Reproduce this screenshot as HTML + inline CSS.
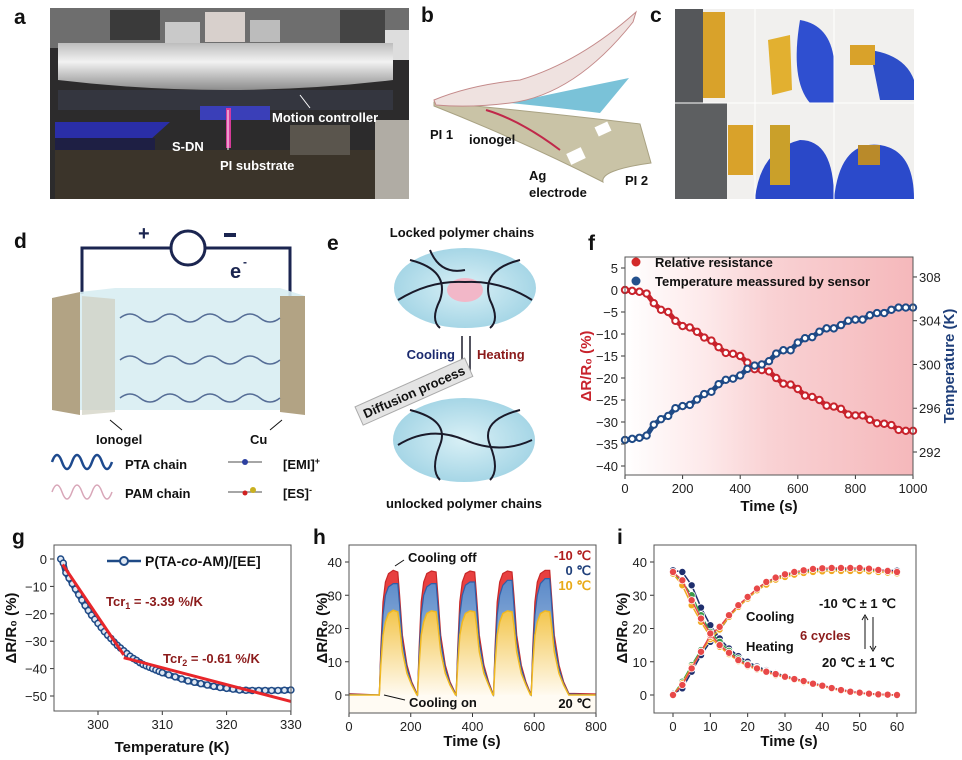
<!DOCTYPE html>
<html><head><meta charset="utf-8">
<style>
html,body{margin:0;padding:0;background:#fff;}
svg{display:block;font-family:"Liberation Sans",Arial,sans-serif;}
.b{font-weight:bold}
</style></head>
<body>
<svg id="fig" width="962" height="760" viewBox="0 0 962 760" xmlns="http://www.w3.org/2000/svg">
<defs>
<linearGradient id="cyl" x1="0" y1="0" x2="0" y2="1"><stop offset="0" stop-color="#bdbdbd"/><stop offset="0.4" stop-color="#f2f2f2"/><stop offset="1" stop-color="#8d8d8d"/></linearGradient>
<linearGradient id="fbg" x1="0" y1="0" x2="1" y2="0"><stop offset="0" stop-color="#fff"/><stop offset="0.28" stop-color="#fde9ea"/><stop offset="0.5" stop-color="#f9d2d4"/><stop offset="1" stop-color="#f5b8bb"/></linearGradient>
<linearGradient id="yel" x1="0" y1="0" x2="0" y2="1"><stop offset="0" stop-color="#f3c54b"/><stop offset="1" stop-color="#fffaf0"/></linearGradient>
<linearGradient id="blu" x1="0" y1="0" x2="0" y2="1"><stop offset="0" stop-color="#5b8ac9"/><stop offset="1" stop-color="#b9cde6"/></linearGradient>
<radialGradient id="ell" cx="0.5" cy="0.5" r="0.5"><stop offset="0" stop-color="#d9f0f6"/><stop offset="1" stop-color="#a6d6e6"/></radialGradient>
</defs>

<!-- panel letters -->
<g class="b" font-size="21" fill="#111">
<text x="14" y="24">a</text>
<text x="421" y="22">b</text>
<text x="650" y="22">c</text>
<text x="14" y="248">d</text>
<text x="327" y="250">e</text>
<text x="588" y="250">f</text>
<text x="12" y="544">g</text>
<text x="313" y="544">h</text>
<text x="617" y="544">i</text>
</g>

<!-- panel a photo -->
<g>
<rect x="50" y="8" width="359" height="191" fill="#2c2b2c"/>
<rect x="50" y="8" width="359" height="40" fill="#6e6e6e"/>
<rect x="110" y="10" width="50" height="30" fill="#3a3a3a"/>
<rect x="165" y="22" width="35" height="22" fill="#c9c9c9"/>
<rect x="205" y="12" width="40" height="30" fill="#d8d0cc"/>
<rect x="250" y="20" width="30" height="22" fill="#bcbcbc"/>
<rect x="340" y="10" width="45" height="35" fill="#444"/>
<rect x="385" y="30" width="24" height="30" fill="#ddd"/>
<path d="M58,43 H393 V80 Q226,100 58,80 Z" fill="url(#cyl)"/>
<rect x="58" y="90" width="335" height="20" fill="#34363f"/>
<rect x="200" y="106" width="70" height="14" fill="#3a3fb8"/>
<path d="M55,122 H170 L150,140 H55 Z" fill="#2a2ea8"/>
<rect x="55" y="138" width="100" height="12" fill="#1e1f44"/>
<rect x="55" y="150" width="354" height="49" fill="#3b342a"/>
<rect x="290" y="125" width="60" height="30" fill="#5a554d"/>
<rect x="375" y="120" width="34" height="79" fill="#b0aca4"/>
<rect x="226" y="108" width="5" height="40" fill="#d63a9a"/>
<line x1="228" y1="110" x2="228" y2="150" stroke="#fff" stroke-width="1"/>
<line x1="300" y1="95" x2="310" y2="108" stroke="#fff" stroke-width="1"/>
<g class="b" font-size="13" fill="#fff">
<text x="272" y="122">Motion controller</text>
<text x="172" y="151">S-DN</text>
<text x="220" y="170">PI substrate</text>
</g>
</g>

<!-- panel b -->
<g>
<path d="M434,102 Q540,112 640,124 L651,163 Q600,170 603,182 Q520,140 434,106 Z" fill="#c9c3a6" stroke="#a9a283"/>
<path d="M510,103 Q560,92 629,78 L600,113 Q560,108 510,103 Z" fill="#6bbbd4" opacity="0.9"/>
<path d="M434,100 Q470,85 520,80 Q580,62 636,12 L633,22 Q575,95 510,103 Q470,108 436,105 Z" fill="#efe2e0" stroke="#c48a8a"/>
<path d="M486,110 Q520,120 560,150" stroke="#c0284a" stroke-width="2" fill="none"/>
<rect x="596" y="124" width="14" height="10" fill="#fff" transform="rotate(-25 603 129)"/>
<rect x="568" y="150" width="16" height="12" fill="#fff" transform="rotate(-25 576 156)"/>
<g class="b" font-size="13" fill="#111">
<text x="430" y="139">PI 1</text>
<text x="469" y="144">ionogel</text>
<text x="529" y="180">Ag</text>
<text x="529" y="197">electrode</text>
<text x="625" y="185">PI 2</text>
</g>
</g>

<!-- panel c photos -->
<g>
<rect x="675" y="9" width="239" height="190" fill="#f1f0ee"/>
<rect x="675" y="9" width="28" height="94" fill="#55575a"/>
<rect x="703" y="12" width="22" height="86" fill="#d9a22a"/>
<rect x="675" y="103" width="52" height="96" fill="#5d5f61"/>
<rect x="728" y="125" width="25" height="50" fill="#d9a22a"/>
<path d="M800,20 Q830,25 834,60 V103 H810 Q790,80 800,20Z" fill="#2f4fd0"/>
<path d="M768,40 L790,35 L792,90 L772,95 Z" fill="#e2b030"/>
<path d="M870,50 Q905,55 914,80 V100 H880 Z" fill="#2d4ec8"/>
<rect x="850" y="45" width="25" height="20" fill="#d9a22a"/>
<path d="M755,199 Q760,150 800,140 Q834,140 834,199 Z" fill="#2a48c8"/>
<rect x="770" y="125" width="20" height="60" fill="#caa02a"/>
<path d="M834,199 Q840,140 880,145 Q914,150 914,199 Z" fill="#2b4acb"/>
<rect x="858" y="145" width="22" height="20" fill="#b98a2a"/>
<line x1="675" y1="103" x2="914" y2="103" stroke="#fff"/>
<line x1="755" y1="9" x2="755" y2="199" stroke="#fff"/>
<line x1="834" y1="9" x2="834" y2="199" stroke="#fff"/>
</g>

<!-- panel d -->
<g>
<path d="M82,294 V248 H170 M206,248 H290 V296" stroke="#1b2550" stroke-width="3" fill="none"/>
<circle cx="188" cy="248" r="17" fill="none" stroke="#1b2550" stroke-width="3"/>
<text x="138" y="240" class="b" font-size="20" fill="#1b2550">+</text>
<rect x="224" y="233" width="12" height="4" fill="#1b2550"/>
<text x="230" y="278" class="b" font-size="20" fill="#1b2550">e</text><text x="243" y="266" class="b" font-size="12" fill="#1b2550">-</text>
<path d="M80,292 L115,288 H280 L305,296 V410 H80 Z" fill="#d8edf2" opacity="0.9"/>
<path d="M52,298 L80,292 V415 L52,410 Z" fill="#b2a384"/>
<path d="M280,296 L305,296 V415 L280,412 Z" fill="#b2a384"/>
<path d="M82,296 L115,299 V412 L82,415 Z" fill="#cfcfbf" opacity="0.7"/>
<path d="M120,318 q10,-8 20,0 t20,0 t20,0 t20,0 t20,0 t20,0 t20,0 t20,0" stroke="#556d96" stroke-width="1.5" fill="none"/>
<path d="M120,360 q10,-8 20,0 t20,0 t20,0 t20,0 t20,0 t20,0 t20,0 t20,0" stroke="#556d96" stroke-width="1.5" fill="none"/>
<path d="M120,398 q10,-8 20,0 t20,0 t20,0 t20,0 t20,0 t20,0 t20,0 t20,0" stroke="#556d96" stroke-width="1.5" fill="none"/>
<line x1="110" y1="420" x2="122" y2="430" stroke="#111"/>
<line x1="282" y1="420" x2="270" y2="430" stroke="#111"/>
<g class="b" font-size="13" fill="#111">
<text x="96" y="444">Ionogel</text>
<text x="250" y="444">Cu</text>
<text x="125" y="469">PTA chain</text>
<text x="125" y="498">PAM chain</text>
<text x="283" y="469">[EMI]<tspan font-size="9" dy="-5">+</tspan></text>
<text x="283" y="498">[ES]<tspan font-size="9" dy="-5">-</tspan></text>
</g>
<path d="M52,462 q5,-14 10,0 t10,0 t10,0 t10,0 t10,0 t10,0" stroke="#1e4a8e" stroke-width="2.5" fill="none"/>
<path d="M52,492 q5,-14 10,0 t10,0 t10,0 t10,0 t10,0 t10,0" stroke="#d8a6b8" stroke-width="1.5" fill="none"/>
<g stroke="#888" stroke-width="1.5"><line x1="228" y1="462" x2="262" y2="462"/><line x1="228" y1="492" x2="262" y2="492"/></g>
<circle cx="245" cy="462" r="3" fill="#2c3fa0"/><circle cx="253" cy="490" r="3" fill="#c9b020"/><circle cx="245" cy="493" r="2.5" fill="#d02020"/>
</g>

<!-- panel e -->
<g>
<text x="462" y="237" text-anchor="middle" class="b" font-size="13" fill="#111">Locked polymer chains</text>
<ellipse cx="465" cy="288" rx="71" ry="40" fill="url(#ell)"/>
<ellipse cx="465" cy="290" rx="18" ry="12" fill="#f2b7c8"/>
<g stroke="#1a1a2a" stroke-width="2" fill="none">
<path d="M410,260 Q450,270 440,300 Q430,320 440,328"/><path d="M520,260 Q480,270 490,300 Q500,320 490,328"/>
<path d="M398,300 Q430,280 465,282 Q500,280 532,300"/><path d="M430,250 Q440,275 465,270"/>
</g>
<g stroke="#1a1a2a" stroke-width="1.5">
<line x1="462" y1="336" x2="462" y2="376"/><line x1="470" y1="336" x2="470" y2="376"/>
</g>
<text x="455" y="359" text-anchor="end" class="b" font-size="13" fill="#1b2a6e">Cooling</text>
<text x="477" y="359" class="b" font-size="13" fill="#8b1a1a">Heating</text>
<ellipse cx="464" cy="440" rx="71" ry="42" fill="url(#ell)"/>
<g stroke="#1a1a2a" stroke-width="2" fill="none">
<path d="M410,410 Q450,420 440,445 Q430,470 440,480"/><path d="M520,410 Q480,420 490,445 Q500,470 490,480"/>
<path d="M398,445 Q430,425 465,440 Q500,455 532,440"/>
</g>
<g transform="rotate(-24 413 392)"><rect x="354" y="382" width="120" height="20" fill="#e4e4e4" stroke="#aaa"/>
<text x="414" y="397" text-anchor="middle" class="b" font-size="13" fill="#111">Diffusion process</text></g>
<text x="464" y="508" text-anchor="middle" class="b" font-size="13" fill="#111">unlocked polymer chains</text>
</g>

<g id="charts"></g>
</svg>

<script>
// ---------- data ----------
const fTime = [0,25,50,75,100,125,150,175,200,225,250,275,300,325,350,375,400,425,450,475,500,525,550,575,600,625,650,675,700,725,750,775,800,825,850,875,900,925,950,975,1000];
const fResistance = [0,-0.2,-0.4,-0.8,-3,-4.5,-5,-7,-8.2,-8.5,-9.5,-10.8,-11.5,-13,-14.3,-14.5,-15,-16.5,-18,-18.2,-18.5,-20,-21.3,-21.5,-22.5,-24,-24.3,-25,-26.3,-26.5,-27,-28.3,-28.5,-28.5,-29.5,-30.3,-30.4,-30.7,-31.8,-32,-32];
const fTemperature = [293.1,293.2,293.3,293.5,294.5,295,295.3,296,296.2,296.3,296.8,297.3,297.5,298.2,298.6,298.7,299,299.6,299.9,300,300.3,301,301.3,301.3,302,302.4,302.5,303,303.3,303.3,303.6,304,304.1,304.1,304.5,304.7,304.7,305,305.2,305.2,305.2];
const fLeftTicks = [5,0,-5,-10,-15,-20,-25,-30,-35,-40];
const fRightTicks = [292,296,300,304,308];
const fXTicks = [0,200,400,600,800,1000];

const gTemp = [294.2,294.6,295,295.5,296,296.5,297,297.5,298,298.5,299,299.5,300,300.5,301,301.5,302,302.5,303,303.5,304,304.5,305,305.5,306,306.5,307,307.5,308,308.5,309,309.5,310,311,312,313,314,315,316,317,318,319,320,321,322,323,324,325,326,327,328,329,330];
const gResist = [0,-1.5,-5,-7,-9,-11,-13,-15,-17,-18.8,-20.5,-22,-23.5,-25,-26.5,-27.8,-29,-30.3,-31.5,-32.5,-33.5,-34.5,-35.5,-36.3,-37,-37.8,-38.5,-39,-39.5,-40,-40.5,-41,-41.5,-42.3,-43,-43.8,-44.5,-45,-45.5,-46,-46.5,-46.9,-47.2,-47.5,-47.8,-47.9,-48,-48,-48,-48,-48,-47.9,-47.8];
const gFit1 = [[294.5,-2],[304,-35]];
const gFit2 = [[304,-36],[330,-52]];
const gYTicks = [0,-10,-20,-30,-40,-50];
const gXTicks = [300,310,320,330];

const hTime = [0,98,103,110,118,128,143,158,164,173,188,203,220,222,227,234,242,252,267,282,288,297,312,327,345,347,352,359,367,377,392,407,413,422,437,452,466,468,473,480,488,498,513,528,534,543,558,573,588,590,595,602,610,620,635,650,656,665,680,695,712,800];
const hRed = [0.4,0,14,28,34,36.5,37.5,37,30,18,9,4,0.5,0,14,28,34,36.5,37.3,37,30,18,9,4,0.5,0,14,28,34,36.5,37.3,37,30,18,9,4,0.5,0,14,28,34,36.5,37.3,37,30,18,9,4,0.5,0,14,28,34,36.5,37.5,37.5,30,18,9,4,0.5,0.3];
const hBlue = [0.2,0,12,24,30,32.5,33.5,33.5,27,16,8,3.5,0.3,0,12,24,30,32.5,33.5,33.5,27,16,8,3.5,0.3,0,12,24,30,33,34,34,27,16,8,3.5,0.3,0,12,24,30,33,34.5,34.5,27,16,8,3.5,0.3,0,12,24,30,33.5,35,35,28,16,8,3.5,0.3,0];
const hYellow = [0,0,9,18,22,24.5,25.5,25,21,13,6.5,3,0,0,9,18,22,24.5,25.3,25,21,13,6.5,3,0,0,9,18,22,24.5,25.3,25,21,13,6.5,3,0,0,9,18,22,24.5,25.3,25,21,13,6.5,3,0,0,9,18,22,24.5,25.3,25,21,13,6.5,3,0,0];
const hYTicks = [0,10,20,30,40];
const hXTicks = [0,200,400,600,800];

const iTime = [0,2.5,5,7.5,10,12.5,15,17.5,20,22.5,25,27.5,30,32.5,35,37.5,40,42.5,45,47.5,50,52.5,55,57.5,60];
const iNavyCool = [0.3,2,7,12,16,19.5,23.5,26.5,29,31.5,33.5,35,36,36.8,37.3,37.6,37.8,37.8,37.9,37.9,37.9,37.8,37.6,37.5,37.4];
const iNavyHeat = [37.5,37,33,26.3,21,17,14,11.7,10,8.6,7.5,6.6,5.7,5,4.2,3.5,2.9,2.2,1.6,1.1,0.7,0.4,0.2,0.1,0];
const iGreenCool = [0,4,9,13.5,17,20,23.8,26.8,29.3,31.8,33.5,35,35.8,36.5,37,37.3,37.5,37.6,37.6,37.6,37.6,37.5,37.3,37.1,36.9];
const iGreenHeat = [36.8,34,30,24,19,16,13.3,11,9.3,8.2,7.2,6.4,5.6,4.9,4.1,3.4,2.8,2.1,1.5,1,0.6,0.4,0.2,0.1,0];
const iOrangeCool = [0,3.5,8.5,13,16.8,19.7,23.5,26.5,29,31.5,33.2,34.7,35.5,36.2,36.7,37,37.2,37.3,37.3,37.3,37.3,37.2,37,36.8,36.6];
const iOrangeHeat = [36.5,33,27,22,17.5,14.5,12.3,10.2,8.7,7.7,6.8,6,5.3,4.6,3.9,3.2,2.6,1.9,1.3,0.8,0.5,0.3,0.1,0,0];
const iRedCool = [0,3,8,13,18,20.5,24,27,29.5,32,34,35.3,36.3,37,37.5,37.9,38.1,38.2,38.2,38.2,38.2,38,37.6,37.3,37];
const iRedHeat = [37,34.5,28.5,23,18.5,15,12.7,10.5,9,8,7,6.3,5.5,4.8,4.2,3.4,2.8,2.1,1.5,1,0.7,0.4,0.2,0.1,0];
const iYTicks = [0,10,20,30,40];
const iXTicks = [0,10,20,30,40,50,60];

// ---------- helpers ----------
const NS = "http://www.w3.org/2000/svg";
const root = document.getElementById("charts");
function mk(tag, attrs, parent) {
  const e = document.createElementNS(NS, tag);
  for (const k in attrs) e.setAttribute(k, attrs[k]);
  (parent || root).appendChild(e);
  return e;
}
function txt(x, y, s, attrs, parent) {
  const t = mk("text", Object.assign({x: x, y: y}, attrs || {}), parent);
  t.textContent = s;
  return t;
}
function poly(xs, ys, fx, fy) { return xs.map((v, i) => fx(v).toFixed(1) + "," + fy(ys[i]).toFixed(1)).join(" "); }

// ---------- panel f ----------
const fx = t => 625 + t * 0.288;
const fyL = v => 290 - v * 4.4;
const fyR = k => 452 - (k - 292) * 10.94;
{
  const bg = mk("rect", {x: 625, y: 257, width: 288, height: 218, fill: "url(#fbg)"});
  
  
  fLeftTicks.forEach(v => {
    mk("line", {x1: 621, x2: 625, y1: fyL(v), y2: fyL(v), stroke: "#333"});
    const t = txt(618, fyL(v) + 5, (v < 0 ? "\u2212" + (-v) : v), {"text-anchor": "end", "font-size": 13, fill: "#222"});
    
    
  });
  fRightTicks.forEach(v => {
    mk("line", {x1: 913, x2: 917, y1: fyR(v), y2: fyR(v), stroke: "#333"});
    const t = txt(919, fyR(v) + 5, v, {"font-size": 13, fill: "#222"});
    
    
  });
  fXTicks.forEach(v => {
    mk("line", {x1: fx(v), x2: fx(v), y1: 475, y2: 479, stroke: "#333"});
    const t = txt(fx(v), 493, v, {"text-anchor": "middle", "font-size": 13, fill: "#222"});
    
    
  });
  mk("polyline", {points: poly(fTime, fResistance, fx, fyL), fill: "none", stroke: "#c8232c", "stroke-width": 5});
  mk("polyline", {points: poly(fTime, fTemperature, fx, fyR), fill: "none", stroke: "#1f4a86", "stroke-width": 5});
  fTime.forEach((t, i) => {
    const c = mk("circle", {cx: fx(t), cy: fyL(fResistance[i]), r: 3.2, fill: "#fff", stroke: "#c8232c", "stroke-width": 2});
    
    
    const d = mk("circle", {cx: fx(t), cy: fyR(fTemperature[i]), r: 3.2, fill: "#fff", stroke: "#1f4a86", "stroke-width": 2});
    
    
  });
  mk("rect", {x: 625, y: 257, width: 288, height: 218, fill: "none", stroke: "#555"});
  mk("circle", {cx: 636, cy: 262, r: 4.5, fill: "#d32a2a"});
  mk("circle", {cx: 636, cy: 281, r: 4.5, fill: "#24508c"});
  const l1 = txt(655, 267, "Relative resistance", {"font-size": 13, "font-weight": "bold", fill: "#111"});
  
  
  const l2 = txt(655, 286, "Temperature meassured by sensor", {"font-size": 13, "font-weight": "bold", fill: "#111"});
  
  
  const xl = txt(769, 511, "Time (s)", {"text-anchor": "middle", "font-size": 15, "font-weight": "bold", fill: "#111"});
  
  
  const yl = txt(0, 0, "\u0394R/R\u2080 (%)", {"text-anchor": "middle", "font-size": 15, "font-weight": "bold", fill: "#c8232c", transform: "translate(591,366) rotate(-90)"});
  
  
  const yr = txt(0, 0, "Temperature (K)", {"text-anchor": "middle", "font-size": 15, "font-weight": "bold", fill: "#1f3f7a", transform: "translate(954,366) rotate(-90)"});
  
  
}

// ---------- panel g ----------
const gx = T => 98 + (T - 300) * 6.43;
const gy = v => 559 - v * 2.74;
{
  gYTicks.forEach(v => {
    mk("line", {x1: 50, x2: 54, y1: gy(v), y2: gy(v), stroke: "#333"});
    const t = txt(47, gy(v) + 5, (v < 0 ? "\u2212" + (-v) : v), {"text-anchor": "end", "font-size": 13, fill: "#222"});
    
    
  });
  gXTicks.forEach(v => {
    mk("line", {x1: gx(v), x2: gx(v), y1: 711, y2: 715, stroke: "#333"});
    const t = txt(gx(v), 729, v, {"text-anchor": "middle", "font-size": 13, fill: "#222"});
    
    
  });
  mk("polyline", {points: poly(gTemp, gResist, gx, gy), fill: "none", stroke: "#1f4a86", "stroke-width": 6});
  gTemp.forEach((T, i) => {
    const c = mk("circle", {cx: gx(T), cy: gy(gResist[i]), r: 3, fill: "#dfe8f3", stroke: "#1f4a86", "stroke-width": 1.5});
    
    
  });
  const f1 = mk("line", {x1: gx(gFit1[0][0]), y1: gy(gFit1[0][1]), x2: gx(gFit1[1][0]), y2: gy(gFit1[1][1]), stroke: "#e8262a", "stroke-width": 3});
  
  
  const f2 = mk("line", {x1: gx(gFit2[0][0]), y1: gy(gFit2[0][1]), x2: gx(gFit2[1][0]), y2: gy(gFit2[1][1]), stroke: "#e8262a", "stroke-width": 3});
  
  
  mk("rect", {x: 54, y: 545, width: 237, height: 166, fill: "none", stroke: "#555"});
  mk("line", {x1: 107, x2: 141, y1: 561, y2: 561, stroke: "#1f4a86", "stroke-width": 2.5});
  mk("circle", {cx: 124, cy: 561, r: 4, fill: "#dfe8f3", stroke: "#1f4a86", "stroke-width": 2});
  const lg = txt(145, 566, "", {"font-size": 14, "font-weight": "bold", fill: "#111"});
  lg.innerHTML = 'P(TA-<tspan font-style="italic">co</tspan>-AM)/[EE]';
  
  
  const t1 = txt(106, 606, "", {"font-size": 13, "font-weight": "bold", fill: "#8b1a1a"});
  t1.innerHTML = 'Tcr<tspan font-size="9" dy="3">1</tspan><tspan dy="-3"> = -3.39 %/K</tspan>';
  
  
  const t2 = txt(163, 663, "", {"font-size": 13, "font-weight": "bold", fill: "#8b1a1a"});
  t2.innerHTML = 'Tcr<tspan font-size="9" dy="3">2</tspan><tspan dy="-3"> = -0.61 %/K</tspan>';
  
  
  const xl = txt(172, 752, "Temperature (K)", {"text-anchor": "middle", "font-size": 15, "font-weight": "bold", fill: "#111"});
  
  
  const yl = txt(0, 0, "\u0394R/R\u2080 (%)", {"text-anchor": "middle", "font-size": 15, "font-weight": "bold", fill: "#111", transform: "translate(16,628) rotate(-90)"});
  
  
}

// ---------- panel h ----------
const hx = t => 349 + t * 0.30875;
const hy = v => 695 - v * 3.325;
{
  function area(vals, fill) {
    const pts = poly(hTime, vals, hx, hy);
    return mk("polygon", {points: hx(hTime[0]) + "," + hy(0) + " " + pts + " " + hx(hTime[hTime.length - 1]) + "," + hy(0), fill: fill});
  }
  const bgy = mk("rect", {x: 349, y: 695, width: 247, height: 18, fill: "#fffbf3"});
  const ar = area(hRed, "#e84040");
  
  
  const ab = area(hBlue, "url(#blu)");
  
  
  const ay = area(hYellow, "url(#yel)");
  
  
  const lr = mk("polyline", {points: poly(hTime, hRed, hx, hy), fill: "none", stroke: "#c82828", "stroke-width": 1.2});
  
  
  const lb = mk("polyline", {points: poly(hTime, hBlue, hx, hy), fill: "none", stroke: "#2f5ea8", "stroke-width": 1.2});
  
  
  const ly = mk("polyline", {points: poly(hTime, hYellow, hx, hy), fill: "none", stroke: "#f0b820", "stroke-width": 1.5});
  
  
  hYTicks.forEach(v => {
    mk("line", {x1: 345, x2: 349, y1: hy(v), y2: hy(v), stroke: "#333"});
    const t = txt(342, hy(v) + 5, v, {"text-anchor": "end", "font-size": 13, fill: "#222"});
    
    
  });
  hXTicks.forEach(v => {
    mk("line", {x1: hx(v), x2: hx(v), y1: 713, y2: 717, stroke: "#333"});
    const t = txt(hx(v), 731, v, {"text-anchor": "middle", "font-size": 13, fill: "#222"});
    
    
  });
  mk("rect", {x: 349, y: 545, width: 247, height: 168, fill: "none", stroke: "#555"});
  const a1 = txt(408, 562, "Cooling off", {"font-size": 13, "font-weight": "bold", fill: "#111"});
  
  
  mk("line", {x1: 404, y1: 560, x2: 395, y2: 566, stroke: "#111"});
  const a2 = txt(409, 707, "Cooling on", {"font-size": 13, "font-weight": "bold", fill: "#111"});
  
  
  mk("line", {x1: 405, y1: 700, x2: 384, y2: 695, stroke: "#111"});
  const s1 = txt(591, 560, "-10 \u2103", {"text-anchor": "end", "font-size": 13, "font-weight": "bold", fill: "#b01e1e"});
  
  
  const s2 = txt(591, 575, "0 \u2103", {"text-anchor": "end", "font-size": 13, "font-weight": "bold", fill: "#1f3f7a"});
  
  
  const s3 = txt(591, 590, "10 \u2103", {"text-anchor": "end", "font-size": 13, "font-weight": "bold", fill: "#e8aa18"});
  
  
  const s4 = txt(591, 708, "20 \u2103", {"text-anchor": "end", "font-size": 13, "font-weight": "bold", fill: "#111"});
  
  
  const xl = txt(472, 746, "Time (s)", {"text-anchor": "middle", "font-size": 15, "font-weight": "bold", fill: "#111"});
  
  
  const yl = txt(0, 0, "\u0394R/R\u2080 (%)", {"text-anchor": "middle", "font-size": 15, "font-weight": "bold", fill: "#111", transform: "translate(327,628) rotate(-90)"});
  
  
}

// ---------- panel i ----------
const ix = t => 673 + t * 3.733;
const iy = v => 695 - v * 3.325;
{
  iYTicks.forEach(v => {
    mk("line", {x1: 650, x2: 654, y1: iy(v), y2: iy(v), stroke: "#333"});
    const t = txt(647, iy(v) + 5, v, {"text-anchor": "end", "font-size": 13, fill: "#222"});
    
    
  });
  iXTicks.forEach(v => {
    mk("line", {x1: ix(v), x2: ix(v), y1: 713, y2: 717, stroke: "#333"});
    const t = txt(ix(v), 731, v, {"text-anchor": "middle", "font-size": 13, fill: "#222"});
    
    
  });
  const seriesList = [[iNavyCool, "#1f2f6e", "navy"], [iNavyHeat, "#1f2f6e", "navy"], [iGreenCool, "#3a9a4a", "green"], [iGreenHeat, "#3a9a4a", "green"], [iOrangeCool, "#f0a820", "orange"], [iOrangeHeat, "#f0a820", "orange"], [iRedCool, "#e84848", "red"], [iRedHeat, "#e84848", "red"]];
  seriesList.forEach(s => {
    const pl = mk("polyline", {points: poly(iTime, s[0], ix, iy), fill: "none", stroke: s[1], "stroke-width": 1.5});
    
    
    iTime.forEach((t, i) => {
      const c = mk("circle", {cx: ix(t), cy: iy(s[0][i]), r: 3.6, fill: s[1], stroke: "#fff", "stroke-width": 0.8});
      
      
    });
  });
  mk("rect", {x: 654, y: 545, width: 262, height: 168, fill: "none", stroke: "#555"});
  const c1 = txt(746, 621, "Cooling", {"font-size": 13, "font-weight": "bold", fill: "#111"});
  
  
  const c2 = txt(746, 651, "Heating", {"font-size": 13, "font-weight": "bold", fill: "#111"});
  
  
  const c3 = txt(800, 640, "6 cycles", {"font-size": 13, "font-weight": "bold", fill: "#8b1a1a"});
  
  
  const c4 = txt(819, 608, "-10 \u2103 \u00b1 1 \u2103", {"font-size": 13, "font-weight": "bold", fill: "#111"});
  
  
  const c5 = txt(822, 667, "20 \u2103 \u00b1 1 \u2103", {"font-size": 13, "font-weight": "bold", fill: "#111"});
  
  
  mk("line", {x1: 865, y1: 617, x2: 865, y2: 649, stroke: "#111"});
  mk("line", {x1: 873, y1: 617, x2: 873, y2: 649, stroke: "#111"});
  mk("path", {d: "M862,620 L865,615 L868,620 M870,646 L873,651 L876,646", stroke: "#111", fill: "none"});
  const xl = txt(789, 746, "Time (s)", {"text-anchor": "middle", "font-size": 15, "font-weight": "bold", fill: "#111"});
  
  
  const yl = txt(0, 0, "\u0394R/R\u2080 (%)", {"text-anchor": "middle", "font-size": 15, "font-weight": "bold", fill: "#111", transform: "translate(627,628) rotate(-90)"});
  
  
}
</script>
</body></html>
